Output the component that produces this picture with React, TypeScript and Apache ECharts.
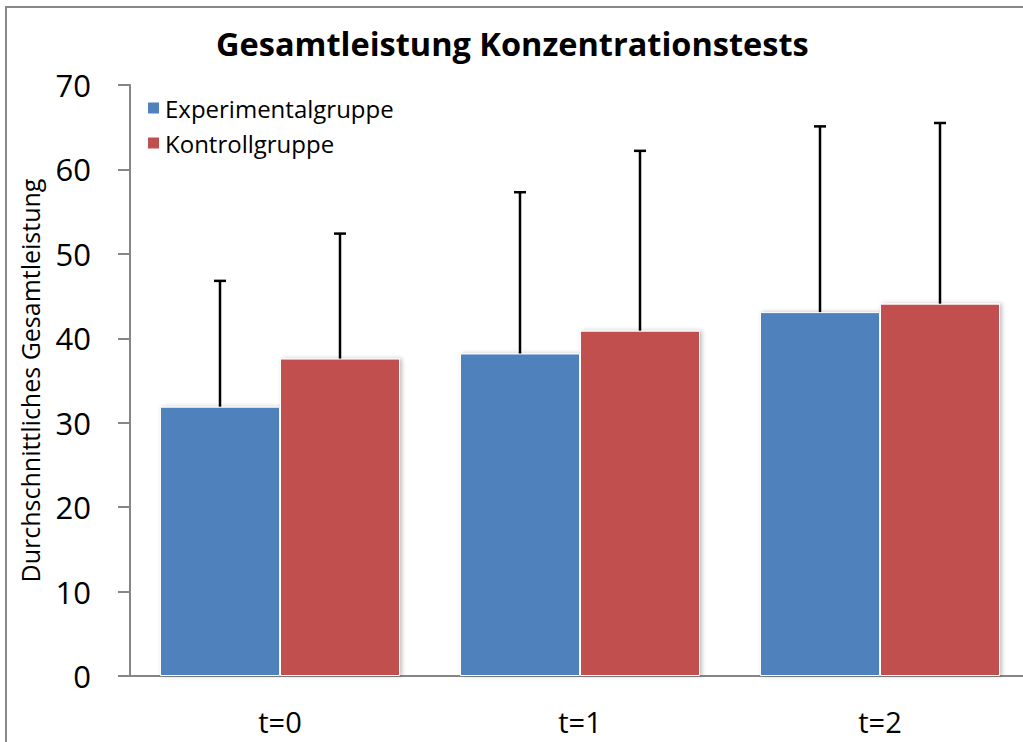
import React, { useEffect, useRef } from "react";
import * as echarts from "echarts";

const categories = ["t=0", "t=1", "t=2"];
const seriesNames = ["Experimentalgruppe", "Kontrollgruppe"];
const experimentalMeans = [31.9, 38.2, 43.1];
const kontrollMeans = [37.6, 40.9, 44.1];
const experimentalUpper = [46.8, 57.3, 65.1];
const kontrollUpper = [52.4, 62.2, 65.5];
const yTicks = [0, 10, 20, 30, 40, 50, 60, 70];

const FONT = "Open Sans";

export default function App() {
  const ref = useRef<HTMLDivElement>(null);
  useEffect(() => {
    if (!ref.current) return;
    const chart = echarts.init(ref.current, null, { renderer: "svg" });
    const errRender = (offsetFrac: number) => (params: any, api: any) => {
      const idx = api.value(0);
      const base = api.coord([idx, api.value(1)]);
      const top = api.coord([idx, api.value(2)]);
      const band = api.size([1, 0])[0];
      const x = base[0] + offsetFrac * band;
      const style = { stroke: "#000", lineWidth: 2.5 };
      return {
        type: "group",
        children: [
          { type: "line", shape: { x1: x, y1: base[1], x2: x, y2: top[1] }, style },
          { type: "line", shape: { x1: x - 6, y1: top[1], x2: x + 6, y2: top[1] }, style },
        ],
      };
    };
    const barStyle = (color: string) => ({
      color,
      borderColor: "#ffffff",
      borderWidth: 1,
      shadowColor: "rgba(0,0,0,0.25)",
      shadowBlur: 4,
      shadowOffsetX: 2,
      shadowOffsetY: 0,
    });
    chart.setOption({
      animation: false,
      backgroundColor: "#ffffff",
      title: {
        text: "Gesamtleistung Konzentrationstests",
        left: 211,
        top: 22,
        textStyle: { fontFamily: FONT, fontWeight: "bold", fontSize: 32.5, color: "#000" },
      },
      legend: {
        orient: "vertical",
        left: 141,
        top: 91,
        itemWidth: 13,
        itemHeight: 13,
        itemGap: 11,
        icon: "rect",
        data: seriesNames,
        textStyle: { fontFamily: FONT, fontSize: 24, color: "#000" },
      },
      grid: { left: 130, right: 0, top: 85, bottom: 66 },
      xAxis: {
        type: "category",
        data: categories,
        axisLine: { lineStyle: { color: "#868686", width: 2 } },
        axisTick: { length: 12, lineStyle: { color: "#868686", width: 2 } },
        axisLabel: { margin: 31, fontFamily: FONT, fontSize: 29, lineHeight: 29, color: "#000" },
      },
      yAxis: {
        type: "value",
        min: yTicks[0],
        max: yTicks[yTicks.length - 1],
        interval: 10,
        name: "Durchschnittliches Gesamtleistung",
        nameLocation: "middle",
        nameGap: 88,
        nameTextStyle: { fontFamily: FONT, fontSize: 25, color: "#000" },
        axisLine: { show: true, lineStyle: { color: "#868686", width: 2 } },
        axisTick: { show: true, length: 12, lineStyle: { color: "#868686", width: 2 } },
        axisLabel: { margin: 39, fontFamily: FONT, fontSize: 31, color: "#000" },
        splitLine: { show: false },
      },
      graphic: [
        {
          type: "rect",
          shape: { x: 6, y: 7, width: 1200, height: 900 },
          style: { fill: "none", stroke: "#888888", lineWidth: 2 },
          silent: true,
        },
      ],
      series: [
        {
          name: seriesNames[0],
          type: "bar",
          data: experimentalMeans,
          barGap: "0%",
          barCategoryGap: "20%",
          itemStyle: barStyle("#4F81BD"),
        },
        {
          name: seriesNames[1],
          type: "bar",
          data: kontrollMeans,
          barGap: "0%",
          barCategoryGap: "20%",
          itemStyle: barStyle("#C0504D"),
        },
        {
          type: "custom",
          name: "err1",
          renderItem: errRender(-0.2),
          data: experimentalUpper.map((u, i) => [i, experimentalMeans[i], u]),
          encode: { x: 0, y: 2 },
          z: 5,
          silent: true,
        },
        {
          type: "custom",
          name: "err2",
          renderItem: errRender(0.2),
          data: kontrollUpper.map((u, i) => [i, kontrollMeans[i], u]),
          encode: { x: 0, y: 2 },
          z: 5,
          silent: true,
        },
      ],
    });
    return () => chart.dispose();
  }, []);
  return (
    <div
      ref={ref}
      style={{ position: "fixed", left: 0, top: 0, width: 1030, height: 742, background: "#fff" }}
    />
  );
}
